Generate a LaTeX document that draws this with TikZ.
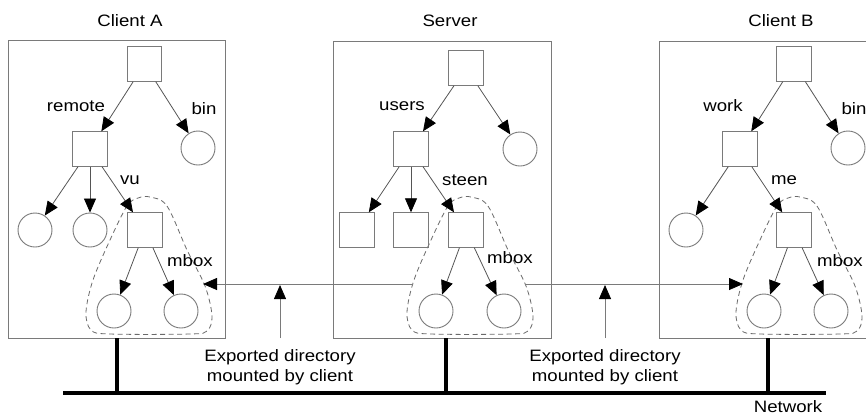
\documentclass[tikz,border=0pt]{standalone}
\usepackage{fontspec}
\setmainfont{Liberation Sans}[FakeStretch=1.13]
\usetikzlibrary{arrows.meta}

\definecolor{boxgray}{HTML}{7A7A7A}
\definecolor{edgegray}{HTML}{555555}
\definecolor{dashgray}{HTML}{6A6A6A}

\tikzset{
  machine/.style={draw=boxgray, line width=0.9pt},
  dirsq/.style={draw=boxgray, line width=0.9pt, rectangle, minimum size=34.5pt, inner sep=0pt},
  filec/.style={draw=boxgray, line width=0.9pt, circle, minimum size=34pt, inner sep=0pt},
  treeedge/.style={draw=edgegray, line width=0.8pt,
    -{Triangle[length=14pt, width=12pt, fill=black, color=black]}},
  mountlink/.style={draw=boxgray, line width=0.8pt,
    -{Triangle[length=14pt, width=12pt, fill=black, color=black]}},
  blob/.style={draw=dashgray, line width=0.8pt, dash pattern=on 5pt off 3.5pt},
  lbl/.style={inner sep=0pt, font=\fontsize{16.5}{20}\selectfont},
  netline/.style={line width=3.2pt, black},
}

% dashed outline of the mounted mbox subtree
\newcommand\mboxoutline{%
  \draw[blob] plot[smooth cycle, tension=0.55] coordinates {
    (150,197) (167,206) (187,250) (205,286) (212,316) (207,331) (190,334)
    (110,334) (91,330) (86,312) (93,280) (110,240) (127,206) (138,198)};}

\begin{document}
\begin{tikzpicture}[x=1pt, y=-1pt]
\clip (0,0) rectangle (866,416);
\fill[white] (0,0) rectangle (866,416);

% machine outlines and titles
\draw[machine] (8,40) rectangle (225,338);
\draw[machine] (333,41) rectangle (551,338);
\draw[machine] (659,41) rectangle (876,338);
\node[lbl] (tA) at (130,21) {Client A};
\node[lbl] (tS) at (450,21) {Server};
\node[lbl] (tB) at (781,21) {Client B};

\mboxoutline
\begin{scope}[xshift=321pt]\mboxoutline\end{scope}
\begin{scope}[xshift=650pt]\mboxoutline\end{scope}

% ---- Client A ----
\node[dirsq] (a0) at (144.5,64) {};
\node[dirsq] (a1) at (90,149) {};
\node[filec] (a2) at (198,148) {};
\node[filec] (a3) at (35,230) {};
\node[filec] (a4) at (90,230) {};
\node[dirsq] (a5) at (145,230) {};
\node[filec] (a6) at (114,311) {};
\node[filec] (a7) at (181,311) {};
\foreach \s/\t in {a0/a1,a0/a2,a1/a3,a1/a4,a1/a5,a5/a6,a5/a7}
  \draw[treeedge] (\s) -- (\t);
\node[lbl] (la1) at (76,106) {remote};
\node[lbl] (la2) at (204,109) {bin};
\node[lbl] (la3) at (130,180) {vu};
\node[lbl] (la4) at (190,261) {mbox};

% ---- Server ----
\node[dirsq] (s0) at (466,68) {};
\node[dirsq] (s1) at (411,149) {};
\node[filec] (s2) at (520,149) {};
\node[dirsq] (s3) at (357,230) {};
\node[dirsq] (s4) at (411,230) {};
\node[dirsq] (s5) at (466,230) {};
\node[filec] (s6) at (436,311) {};
\node[filec] (s7) at (504,311) {};
\foreach \s/\t in {s0/s1,s0/s2,s1/s3,s1/s4,s1/s5,s5/s6,s5/s7}
  \draw[treeedge] (\s) -- (\t);
\node[lbl] (ls1) at (402,106) {users};
\node[lbl] (ls2) at (465,180) {steen};
\node[lbl] (ls3) at (510,258) {mbox};

% ---- Client B ----
\node[dirsq] (b0) at (794,64) {};
\node[dirsq] (b1) at (740,149) {};
\node[filec] (b2) at (848,148) {};
\node[filec] (b3) at (686,230) {};
\node[dirsq] (b5) at (794,230) {};
\node[filec] (b6) at (764,311) {};
\node[filec] (b7) at (831,311) {};
\foreach \s/\t in {b0/b1,b0/b2,b1/b3,b1/b5,b5/b6,b5/b7}
  \draw[treeedge] (\s) -- (\t);
\node[lbl] (lb1) at (723,106) {work};
\node[lbl] (lb2) at (854,109) {bin};
\node[lbl] (lb3) at (784,180) {me};
\node[lbl] (lb4) at (840,261) {mbox};

% mount links between the exported subtree and the clients
\coordinate (mA) at (203,284);
\coordinate (mSL) at (413,284);
\coordinate (mSR) at (526,284);
\coordinate (mB) at (743,284);
\draw[mountlink] (mSL) -- (mA);
\draw[mountlink] (mSR) -- (mB);

% annotations
\node[lbl, align=center] (ex1) at (280,367) {Exported directory\\mounted by client};
\node[lbl, align=center] (ex2) at (605,367) {Exported directory\\mounted by client};
\coordinate (up1) at (280,338);
\coordinate (up2) at (605,338);
\coordinate (hit1) at (280,285);
\coordinate (hit2) at (605,285);
\draw[mountlink] (up1) -- (hit1);
\draw[mountlink] (up2) -- (hit2);

% network
\coordinate (nL) at (63,393);
\coordinate (nR) at (826,393);
\draw[netline] (nL) -- (nR);
\coordinate (dA) at (117,338);
\coordinate (dS) at (446,338);
\coordinate (dB) at (768,338);
\coordinate (nA) at (117,393);
\coordinate (nS) at (446,393);
\coordinate (nB) at (768,393);
\draw[netline] (dA) -- (nA);
\draw[netline] (dS) -- (nS);
\draw[netline] (dB) -- (nB);
\node[lbl] (net) at (788,407) {Network};
\end{tikzpicture}
\end{document}
